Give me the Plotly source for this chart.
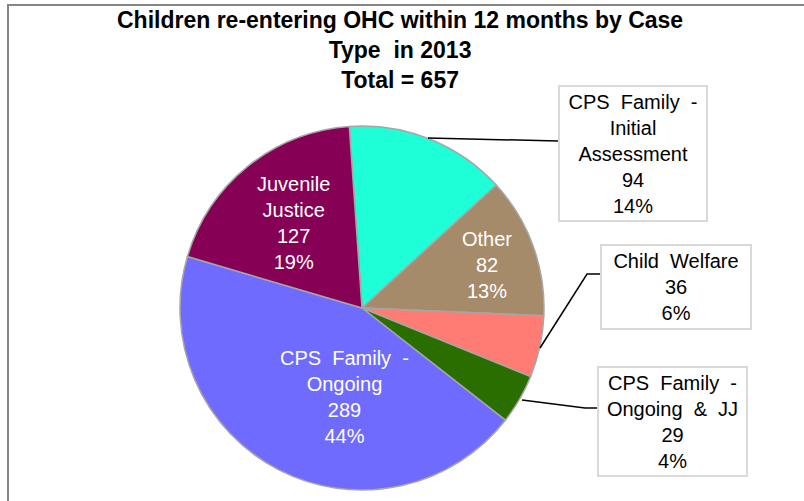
import plotly.graph_objects as go

W, H = 804, 501

# slices, clockwise from the top
labels = [
    "CPS Family - Initial Assessment",
    "Other",
    "Child Welfare",
    "CPS Family - Ongoing & JJ",
    "CPS Family - Ongoing",
    "Juvenile Justice",
]
label_lines = [
    "CPS  Family  -<br>Initial<br>Assessment",
    "Other",
    "Child  Welfare",
    "CPS  Family  -<br>Ongoing  &  JJ",
    "CPS  Family  -<br>Ongoing",
    "Juvenile<br>Justice",
]
values = [94, 82, 36, 29, 289, 127]
percents = ["14%", "13%", "6%", "4%", "44%", "19%"]  # as printed on the chart
colors = ["#1EFFD8", "#A68B6A", "#FF7C75", "#2A6E00", "#6F6BFF", "#860055"]

label_text = [f"{l}<br>{v}<br>{p}" for l, v, p in zip(label_lines, values, percents)]

FONT = "Liberation Sans, Arial"


def px(x):
    return x / W


def py(y):
    return 1 - y / H


fig = go.Figure(
    go.Pie(
        labels=labels,
        values=values,
        sort=False,
        direction="clockwise",
        rotation=-4,
        textinfo="none",
        marker=dict(colors=colors, line=dict(color="#A6A6A6", width=1.5)),
        domain=dict(x=[px(180), px(544)], y=[py(490), py(126)]),
        showlegend=False,
        hoverinfo="skip",
    )
)

annotations = [
    dict(
        text="<b>Children re-entering OHC within 12 months by Case<br>Type  in 2013<br>Total = 657</b>",
        x=px(400), y=py(50), xref="paper", yref="paper",
        xanchor="center", yanchor="middle", showarrow=False,
        font=dict(family=FONT, size=23, color="black"),
    )
]

# labels drawn on the slice itself (centre in pixels)
inside = {5: (293, 223), 1: (487, 265), 4: (344, 397)}
for i, (cx, cy) in inside.items():
    annotations.append(
        dict(
            text=label_text[i],
            x=px(cx), y=py(cy), xref="paper", yref="paper",
            xanchor="center", yanchor="middle", showarrow=False,
            font=dict(family=FONT, size=20, color="white"),
        )
    )

# callout boxes (left, top, right, bottom) in pixels
boxes = {
    0: (558, 85, 708, 222),
    2: (600, 244, 752, 330),
    3: (597, 366, 748, 477),
}
for i, (l, t, r, b) in boxes.items():
    annotations.append(
        dict(
            text=label_text[i],
            x=px((l + r) / 2), y=py((t + b) / 2), xref="paper", yref="paper",
            xanchor="center", yanchor="middle", showarrow=False,
            width=r - l - 6, height=b - t - 6, borderpad=1,
            bordercolor="#D9D9D9", borderwidth=2, bgcolor="white",
            font=dict(family=FONT, size=20, color="black"),
        )
    )

leaders = [
    [(428, 138), (558, 141)],
    [(540, 348), (587, 274), (600, 274)],
    [(522, 400), (585, 408), (597, 408)],
]
shapes = []
for pts in leaders:
    path = "M " + " L ".join(f"{px(x)},{py(y)}" for x, y in pts)
    shapes.append(dict(type="path", path=path, xref="paper", yref="paper",
                       line=dict(color="black", width=1.5)))

# chart frame, only top and left edges visible
shapes.append(dict(type="path", xref="paper", yref="paper",
                   path=f"M {px(8)},{py(H + 10)} L {px(8)},{py(5)} L {px(W + 10)},{py(5)}",
                   line=dict(color="#858585", width=2)))

fig.update_layout(
    width=W,
    height=H,
    margin=dict(l=0, r=0, t=0, b=0),
    paper_bgcolor="white",
    plot_bgcolor="white",
    annotations=annotations,
    shapes=shapes,
    hovermode=False,
)

# drop the browser's default body margin so the figure sits at the window corner
fig.write_html(
    "out.html",
    config={"displayModeBar": False},
    post_script="document.body.style.margin = '0';",
)
